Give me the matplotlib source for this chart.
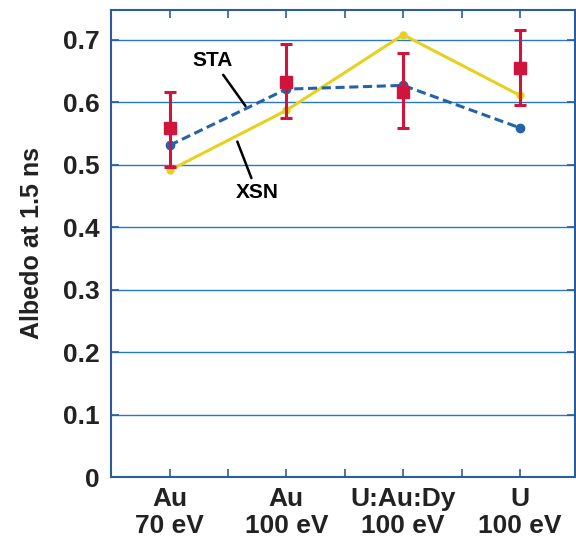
import matplotlib.pyplot as plt
import numpy as np

plt.rcParams['font.family'] = ['Liberation Sans', 'DejaVu Sans']

targets = ['Au\n70 eV', 'Au\n100 eV', 'U:Au:Dy\n100 eV', 'U\n100 eV']
measured = [0.558, 0.633, 0.616, 0.655]
err_low = [0.061, 0.059, 0.058, 0.060]
err_high = [0.059, 0.061, 0.063, 0.060]
sta = [0.531, 0.621, 0.627, 0.559]
xsn = [0.491, 0.587, 0.708, 0.611]

grid_c = '#2a78c0'
spine_c = '#2a5d9a'

fig = plt.figure(figsize=(5.76, 5.44), dpi=100)
ax = fig.add_axes([0.193, 0.123, 0.805, 0.859])

x = np.arange(1, len(targets) + 1)

for yv in np.arange(0.1, 0.75, 0.1):
    ax.axhline(yv, color=grid_c, lw=1.0, zorder=0)

ax.plot(x, xsn, color='#e6d21e', lw=2.2, marker='o', ms=5, zorder=2)
ax.plot(x, sta, color='#2563a8', lw=2.2, ls=(0, (3, 1.5)), marker='o', ms=6, zorder=3)
ax.errorbar(x, measured, yerr=[err_low, err_high], fmt='s', color='#d0143c',
            ms=9, elinewidth=2.2, capsize=4, capthick=2.2, zorder=4)

ax.annotate('STA', xy=(1.65, 0.594), xytext=(1.37, 0.652),
            fontsize=15, fontweight='bold', ha='center', va='bottom',
            arrowprops=dict(arrowstyle='-', color='black', lw=1.8, shrinkA=2, shrinkB=0))
ax.annotate('XSN', xy=(1.58, 0.537), xytext=(1.75, 0.470),
            fontsize=15, fontweight='bold', ha='center', va='top',
            arrowprops=dict(arrowstyle='-', color='black', lw=1.8, shrinkA=2, shrinkB=0))

ax.set_xlim(0.5, 4.47)
ax.set_ylim(0, 0.748)
ax.set_xticks(x)
ax.set_xticks(np.arange(1.5, 4.5, 1.0), minor=True)
ax.set_xticklabels(targets, fontsize=19, fontweight='bold', color='#222222',
                   linespacing=1.15)
ax.set_yticks(np.arange(0, 0.75, 0.1))
ax.set_yticklabels(['0', '0.1', '0.2', '0.3', '0.4', '0.5', '0.6', '0.7'],
                   fontsize=19, fontweight='bold', color='#222222')
ax.tick_params(axis='both', which='both', direction='in', top=True, right=True,
               color=spine_c, length=6, width=1.2)
ax.tick_params(axis='x', pad=7)
ax.tick_params(axis='y', pad=8)
for s in ax.spines.values():
    s.set_color(spine_c)
    s.set_linewidth(1.5)

ax.set_ylabel('Albedo at 1.5 ns', fontsize=18, fontweight='bold', color='#222222',
              labelpad=14)

fig.savefig('out.png', dpi=100)
